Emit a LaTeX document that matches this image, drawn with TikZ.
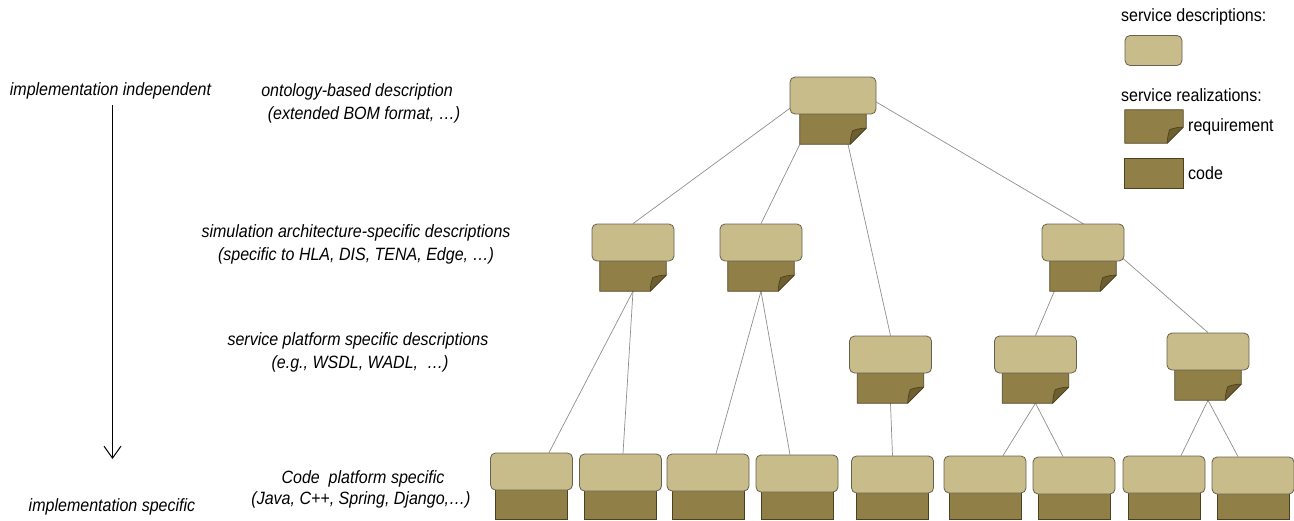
\documentclass[tikz,border=0pt]{standalone}
\usepackage{fontspec}
\setmainfont{Liberation Sans}[FakeStretch=0.9]
\usetikzlibrary{arrows.meta,calc,backgrounds}

\definecolor{descfill}{HTML}{C8BC8B}
\definecolor{descline}{HTML}{66624E}
\definecolor{reqfill}{HTML}{907F46}
\definecolor{reqline}{HTML}{4C4220}
\definecolor{foldfill}{HTML}{6E5F31}
\definecolor{linkgray}{HTML}{8E8E8E}

\tikzset{
  descbox/.style={draw=descline, fill=descfill, rounded corners=5pt,
    minimum width=82pt, minimum height=37pt, inner sep=0pt, line width=0.8pt},
  reqbox/.style={minimum width=66pt, minimum height=30pt, inner sep=0pt},
  reqshape/.style={draw=reqline, fill=reqfill, line width=0.8pt, line join=round},
  foldshape/.style={draw=reqline, fill=foldfill, line width=0.7pt, line join=round},
  codebox/.style={draw=reqline, fill=reqfill, minimum width=72pt,
    inner sep=0pt, line width=0.8pt},
  link/.style={draw=linkgray, line width=0.7pt},
  lbl/.style={font=\itshape\fontsize{17.8}{21}\selectfont, inner sep=0pt,
    text height=12.8pt, text depth=3.8pt},
  legtxt/.style={font=\fontsize{17.8}{21}\selectfont, inner sep=0pt,
    text height=12.8pt, text depth=3.8pt},
}

% requirement sheet with a folded lower-right corner, drawn over node #1
\newcommand\reqpath[1]{%
  \filldraw[reqshape] (#1.north west) -- (#1.north east)
    -- ([yshift=16pt]#1.south east) -- ([xshift=-16pt]#1.south east)
    -- (#1.south west) -- cycle;
  \filldraw[foldshape] ([xshift=-16pt]#1.south east)
    to[bend left=8] ([xshift=-13.5pt,yshift=13.5pt]#1.south east)
    to[bend left=10] ([yshift=16pt]#1.south east) -- cycle;
}

% description with a requirement below: name, x, top y, description width
\newcommand\svcreq[4]{%
  \node[reqbox] (#1-r) at (#2,{#3+52}) {};
  \reqpath{#1-r}
  \node[descbox, minimum width=#4] (#1) at (#2,{#3+18.5}) {};
}

% description with code below: name, x, top y
\newcommand\svccode[3]{%
  \node[codebox, minimum height={484-#3}] (#1-c) at (#2,{(#3+554)/2}) {};
  \node[descbox] (#1) at (#2,{#3+18.5}) {};
}

\begin{document}
\begin{tikzpicture}[x=1pt, y=-1pt]
\useasboundingbox (0,0) rectangle (1294,520);

% level labels
\node[lbl] (ii) at (110.5,91) {implementation independent};
\node[lbl] (is) at (112,507) {implementation specific};
\coordinate (arrtop) at (112.5,105);
\coordinate (arrtip) at (112.5,459);
\draw[line width=1pt, -{Straight Barb[length=12pt,width=17pt]}] (arrtop) -- (arrtip);

\node[lbl] (l1a) at (357,92) {ontology-based description};
\node[lbl] (l1b) at (364,115) {(extended BOM format, …)};
\node[lbl] (l2a) at (356,233) {simulation architecture-specific descriptions};
\node[lbl] (l2b) at (356,256) {(specific to HLA, DIS, TENA, Edge, …)};
\node[lbl] (l3a) at (358,341) {service platform specific descriptions};
\node[lbl] (l3b) at (360,364) {(e.g., WSDL, WADL,~~…)};
\node[lbl] (l4a) at (363,479) {Code~~platform specific};
\node[lbl] (l4b) at (361,500) {(Java, C++, Spring, Django,…)};

% service hierarchy
\svcreq{T}{833}{77}{86pt}
\svcreq{A}{633}{224}{82pt}
\svcreq{B}{761}{224}{82pt}
\svcreq{D}{1083}{224}{82pt}
\svcreq{C}{890.5}{336}{82pt}
\svcreq{E}{1035.5}{336}{82pt}
\svcreq{F}{1208}{333}{82pt}

\svccode{n1}{531.5}{453}
\svccode{n2}{620.5}{454}
\svccode{n3}{708}{454}
\svccode{n4}{797}{455}
\svccode{n5}{892.5}{456}
\svccode{n6}{985}{456}
\svccode{n7}{1074}{457}
\svccode{n8}{1164}{456}
\svccode{n9}{1253}{457}

\begin{scope}[on background layer]
  \draw[link, shorten <=1pt] (T.north) -- (A.north);
  \draw[link, shorten <=1pt] (T.north) -- (B.north);
  \draw[link, shorten <=1pt] (T.north) -- (C.north);
  \draw[link, shorten <=1pt] (T.north) -- (D.north);
  \draw[link] (A-r.south) -- ([xshift=17.5pt]n1.north);
  \draw[link] (A-r.south) -- ([xshift=2.5pt]n2.north);
  \draw[link] (B-r.south) -- ([xshift=8pt]n3.north);
  \draw[link] (B-r.south) -- ([xshift=-7pt]n4.north);
  \draw[link] (C-r.south) -- (n5.north);
  \draw[link] (D.north) -- (E.north);
  \draw[link] (D.north) -- (F.north);
  \draw[link] (E-r.south) -- ([xshift=18pt]n6.north);
  \draw[link] (E-r.south) -- ([xshift=-11pt]n7.north);
  \draw[link] (F-r.south) -- ([xshift=17pt]n8.north);
  \draw[link] (F-r.south) -- ([xshift=-15pt]n9.north);
\end{scope}

% legend
\node[legtxt, anchor=west] (lg1) at (1121,17) {service descriptions:};
\node[descbox, minimum width=57pt, minimum height=30pt] (ldesc) at (1153.5,50.5) {};
\node[legtxt, anchor=west] (lg2) at (1121,97) {service realizations:};
\node[reqbox, minimum width=58pt, minimum height=33pt] (lreq) at (1154,126.5) {};
\reqpath{lreq}
\node[legtxt, anchor=west] (lgr) at (1188,127) {requirement};
\node[codebox, minimum width=59pt, minimum height=30pt] (lcode) at (1153.5,173) {};
\node[legtxt, anchor=west] (lgc) at (1188,175) {code};
\end{tikzpicture}
\end{document}
